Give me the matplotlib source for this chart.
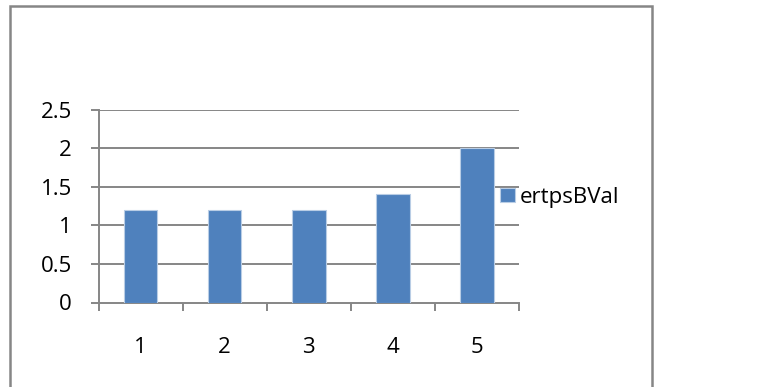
import matplotlib
matplotlib.use("Agg")
import matplotlib.pyplot as plt
from matplotlib.patches import Rectangle
import numpy as np

categories = ["1", "2", "3", "4", "5"]
values = [1.2, 1.2, 1.2, 1.4, 2.0]
series_name = "ertpsBVal"
y_ticks = [0, 0.5, 1, 1.5, 2, 2.5]
y_tick_labels = ["0", "0.5", "1", "1.5", "2", "2.5"]

W, H = 757, 387
plt.rcParams["font.family"] = ["Open Sans", "DejaVu Sans"]
FS = 16

fig = plt.figure(figsize=(W / 100, H / 100), dpi=100)
fig.patch.set_facecolor("white")

# outer chart frame
fig.patches.append(Rectangle((10 / W, -0.05), (652 - 10) / W, (H - 6) / H + 0.05,
                             transform=fig.transFigure, fill=False,
                             edgecolor="#868686", linewidth=1.8))

ax = fig.add_axes([98.5 / W, (H - 302.5) / H, (519 - 98.5) / W, (302.5 - 109.5) / H])

grid_c = "#868686"
x = np.arange(len(categories))
ax.bar(x, values, width=0.40, color="#4F81BD", edgecolor="#B9CDE5",
       linewidth=0.8, label=series_name, zorder=3)

ax.set_xlim(-0.5, len(categories) - 0.5)
ax.set_ylim(0, 2.5)
ax.set_yticks(y_ticks)
ax.set_yticklabels(y_tick_labels)
ax.set_xticks(x)
ax.set_xticklabels(categories)
ax.set_xticks(np.arange(-0.5, len(categories)), minor=True)

for yv in y_ticks[1:]:
    ax.axhline(yv, color=grid_c, linewidth=1.4, zorder=1)

for s in ["top", "right"]:
    ax.spines[s].set_visible(False)
for s in ["left", "bottom"]:
    ax.spines[s].set_color(grid_c)
    ax.spines[s].set_linewidth(1.4)

ax.tick_params(axis="y", which="major", length=6, width=1.4, color=grid_c,
               pad=13, labelsize=FS)
ax.tick_params(axis="x", which="major", length=0, pad=25, labelsize=FS)
ax.tick_params(axis="x", which="minor", length=6, width=1.4, color=grid_c)

ax.legend(loc="center left", bbox_to_anchor=(1.0 - 0.045, 0.545), frameon=False,
          handlelength=0.65, handleheight=0.65, handletextpad=0.25,
          borderpad=0, borderaxespad=0, fontsize=FS)

fig.savefig("out.png", dpi=100, facecolor="white")
